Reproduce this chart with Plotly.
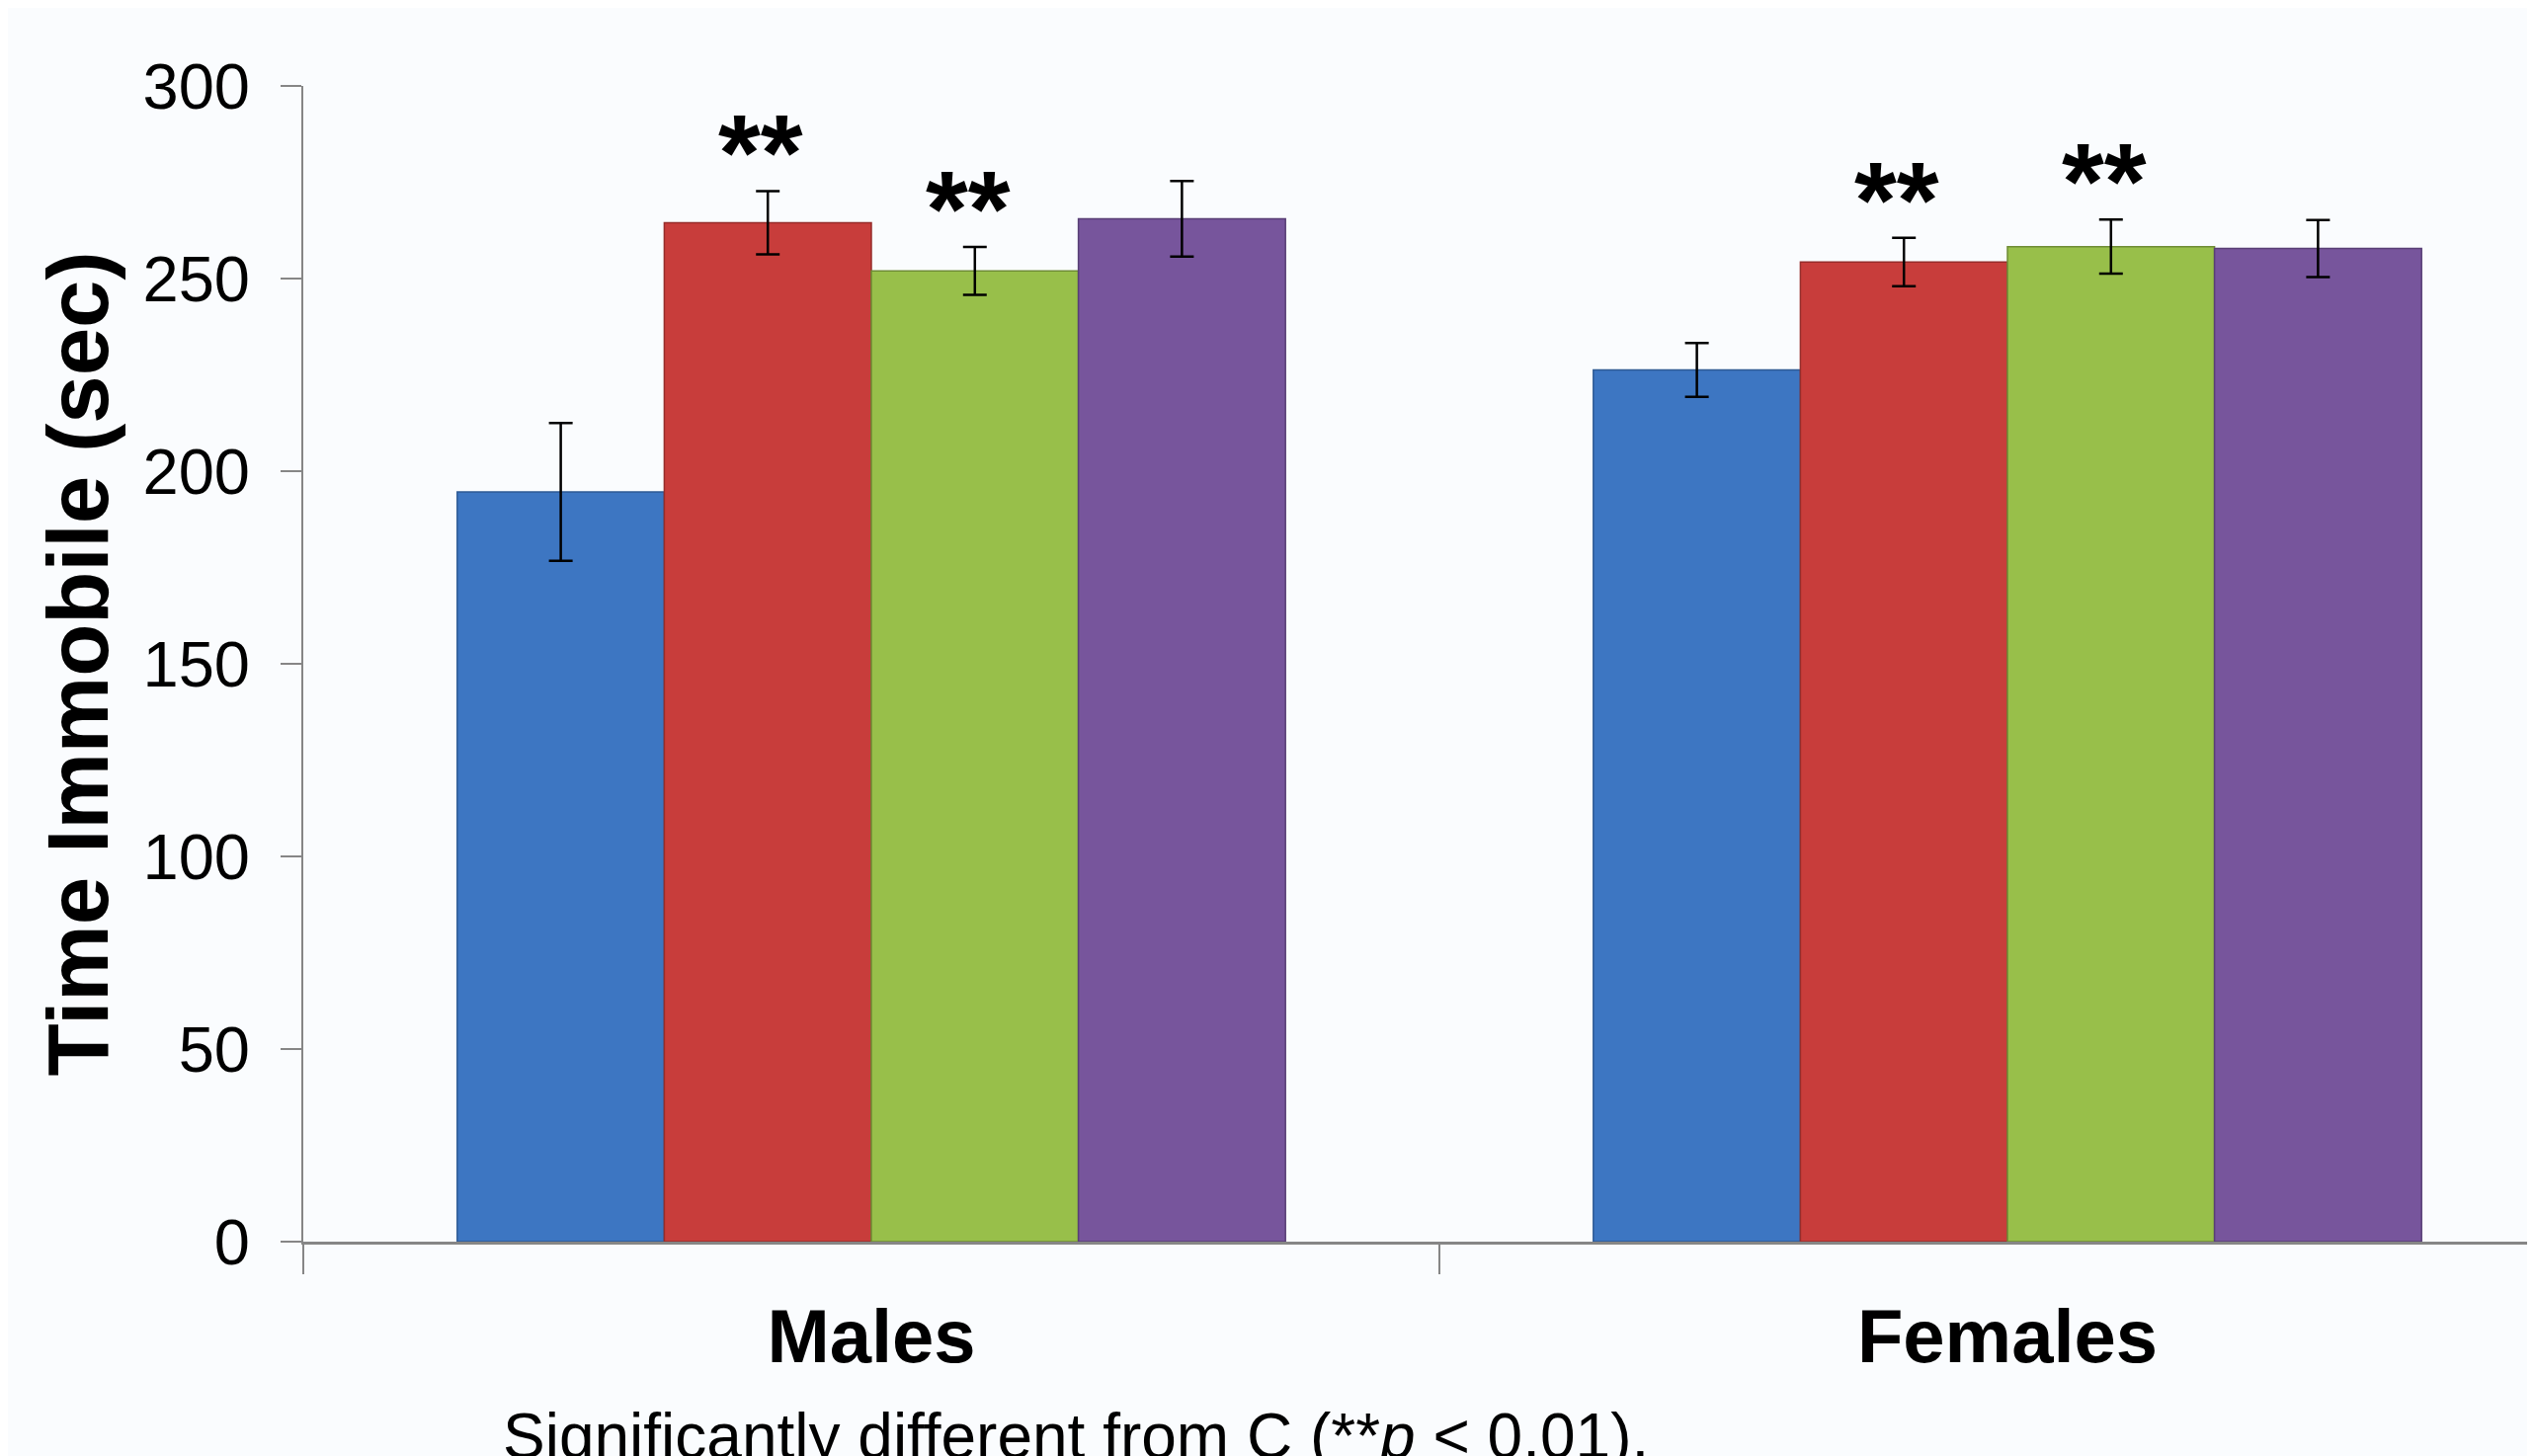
import plotly.graph_objects as go

groups = ["Males", "Females"]
series_names = ["C", "T1", "T2", "T3"]
means = {
    "C":  [194.6, 226.3],
    "T1": [264.5, 254.3],
    "T2": [252.0, 258.3],
    "T3": [265.5, 257.8],
}
errors = {
    "C":  [17.9, 7.0],
    "T1": [8.2, 6.3],
    "T2": [6.2, 7.0],
    "T3": [9.8, 7.4],
}
# significance markers: (series, group index)
significant = [("T1", 0), ("T2", 0), ("T1", 1), ("T2", 1)]
y_ticks = [0, 50, 100, 150, 200, 250, 300]
caption = "Significantly different from C (**<i>p</i> &lt; 0.01)."

fills = {"C": "#3d76c2", "T1": "#c83d3b", "T2": "#98bf4a", "T3": "#77559c"}
edges = {"C": "#2e5a94", "T1": "#962d2b", "T2": "#6f8c35", "T3": "#583f75"}

fig = go.Figure()
for s in series_names:
    fig.add_trace(go.Bar(
        name=s, x=groups, y=means[s],
        marker=dict(color=fills[s], line=dict(color=edges[s], width=1.5)),
        error_y=dict(type="data", array=errors[s], visible=True,
                     color="black", thickness=2.5, width=12),
    ))

bargap = 0.271
n = len(series_names)
bw = (1 - bargap) / n
for s, gi in significant:
    k = series_names.index(s)
    xpos = gi - (1 - bargap) / 2 + bw * (k + 0.5)
    top = means[s][gi] + errors[s][gi]
    fig.add_annotation(x=xpos, y=top, xref="x", yref="y", text="<b>**</b>",
                       showarrow=False, yanchor="bottom", yshift=-24, xshift=-7,
                       font=dict(family="Liberation Sans", size=110, color="black"))

W, H = 2558, 1466
ML, MT, PH = 299, 79, 1170
fig.add_annotation(x=(507 - 8 - ML) / (W - ML), y=-0.136, xref="paper", yref="paper",
                   xanchor="left", yanchor="top", text=caption, showarrow=False,
                   font=dict(family="Liberation Sans", size=64, color="black"))

axis_col = "#868686"
fig.update_layout(
    width=W, height=H,
    margin=dict(l=ML, r=0, t=MT, b=H - MT - PH),
    paper_bgcolor="#fafcfe", plot_bgcolor="rgba(0,0,0,0)",
    barmode="group", bargap=bargap, bargroupgap=0,
    showlegend=False,
    xaxis=dict(type="category", categoryorder="array", categoryarray=groups,
               range=[-0.5, (2566 - 882) / 1150], showgrid=False,
               showline=True, linecolor=axis_col, linewidth=3,
               ticks="outside", tickson="boundaries", ticklen=30, tickwidth=2,
               tickcolor=axis_col, ticklabelstandoff=28,
               tickfont=dict(family="Liberation Sans", size=76,
                             color="black", weight="bold")),
    yaxis=dict(range=[0, 300], tickvals=y_ticks, showgrid=False, zeroline=False,
               showline=True, linecolor=axis_col, linewidth=2,
               ticks="outside", ticklen=21, tickwidth=2, tickcolor=axis_col,
               ticklabelstandoff=18,
               tickfont=dict(family="Liberation Sans", size=65, color="black"),
               title=dict(text="<b>Time Immobile (sec)</b>", standoff=6,
                          font=dict(family="Liberation Sans", size=87, color="black"))),
)

fig.write_html("out.html")
